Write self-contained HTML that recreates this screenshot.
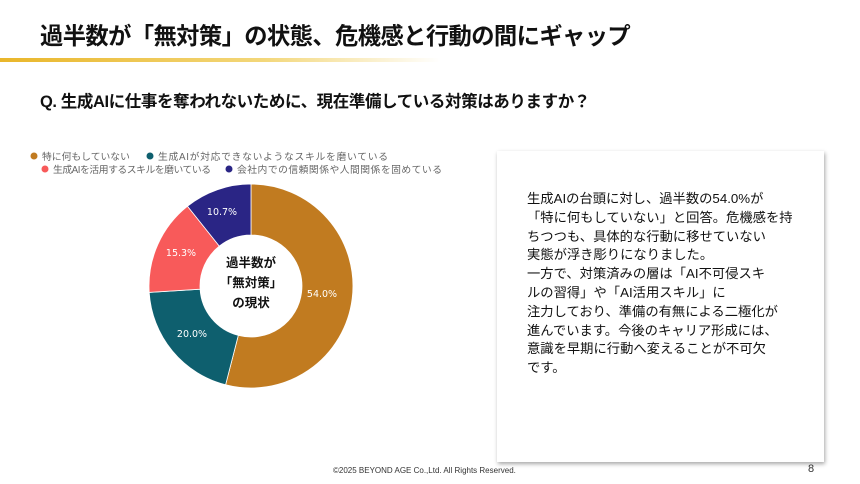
<!DOCTYPE html>
<html><head><meta charset="utf-8"><style>
body{margin:0;width:860px;height:484px;background:#fff;position:relative;overflow:hidden;font-family:"Liberation Sans","Noto Sans CJK JP",sans-serif;color:#111}
.t{position:absolute;white-space:nowrap}
</style></head><body>
<div class="t" style="left:40px;top:17px;font-size:23.3px;font-weight:bold;letter-spacing:-0.6px">過半数が「無対策」の状態、危機感と行動の間にギャップ</div>
<div style="position:absolute;left:0;top:58px;width:440px;height:4px;background:linear-gradient(to right,#e9b62a,#f3d77a 60%,rgba(255,255,255,0))"></div>
<div class="t" style="left:40px;top:88px;font-size:16.5px;font-weight:bold;letter-spacing:-0.4px">Q. 生成AIに仕事を奪われないために、現在準備している対策はありますか？</div>
<svg style="position:absolute;left:0;top:0" width="860" height="484">
<g font-size="9.8" fill="#666" font-family="Liberation Sans,Noto Sans CJK JP,sans-serif">
<circle cx="34" cy="156" r="3.5" fill="#c17b20"/><text x="42" y="160">特に何もしていない</text>
<circle cx="150" cy="156" r="3.5" fill="#0e5f6e"/><text x="158" y="160" textLength="230">生成AIが対応できないようなスキルを磨いている</text>
<circle cx="45" cy="169" r="3.5" fill="#f85a5a"/><text x="53" y="173" textLength="158">生成AIを活用するスキルを磨いている</text>
<circle cx="229" cy="169" r="3.5" fill="#2a2585"/><text x="237" y="173" textLength="205">会社内での信頼関係や人間関係を固めている</text>
</g>
<path d="M251,184 A102,102 0 1 1 225.6,384.8 L238.3,335.4 A51,51 0 1 0 251,235 Z" fill="#c17b20" stroke="#fff" stroke-width="0.8"/>
<path d="M225.6,384.8 A102,102 0 0 1 149.2,292.4 L200.1,289.2 A51,51 0 0 0 238.3,335.4 Z" fill="#0e5f6e" stroke="#fff" stroke-width="0.8"/>
<path d="M149.2,292.4 A102,102 0 0 1 187.5,206.2 L219.3,246.1 A51,51 0 0 0 200.1,289.2 Z" fill="#f85a5a" stroke="#fff" stroke-width="0.8"/>
<path d="M187.5,206.2 A102,102 0 0 1 251,184 L251,235 A51,51 0 0 0 219.3,246.1 Z" fill="#2a2585" stroke="#fff" stroke-width="0.8"/>
<g font-size="9.5" fill="#fff" text-anchor="middle" font-family="DejaVu Sans,sans-serif">
<text x="322" y="297">54.0%</text><text x="192" y="337">20.0%</text><text x="181" y="256">15.3%</text><text x="222" y="215">10.7%</text>
</g>
<g font-size="12.5" font-weight="bold" fill="#111" text-anchor="middle" font-family="Liberation Sans,Noto Sans CJK JP,sans-serif">
<text x="251" y="267">過半数が</text><text x="251" y="287">「無対策」</text><text x="251" y="307">の現状</text>
</g>
</svg>
<div style="position:absolute;left:497px;top:151px;width:327px;height:311px;background:#fff;box-shadow:1px 2px 4px rgba(0,0,0,0.35)"></div>
<div style="position:absolute;left:527px;top:190px;font-size:13.3px;line-height:18.8px;white-space:nowrap">生成AIの台頭に対し、過半数の54.0%が<br>「特に何もしていない」と回答。危機感を持<br>ちつつも、具体的な行動に移せていない<br>実態が浮き彫りになりました。<br>一方で、対策済みの層は「AI不可侵スキ<br>ルの習得」や「AI活用スキル」に<br>注力しており、準備の有無による二極化が<br>進んでいます。今後のキャリア形成には、<br>意識を早期に行動へ変えることが不可欠<br>です。</div>
<div class="t" style="left:333px;top:466px;font-size:8px;color:#333">©2025 BEYOND AGE Co.,Ltd. All Rights Reserved.</div>
<div class="t" style="left:808px;top:463px;font-size:11px;color:#333">8</div>
</body></html>
